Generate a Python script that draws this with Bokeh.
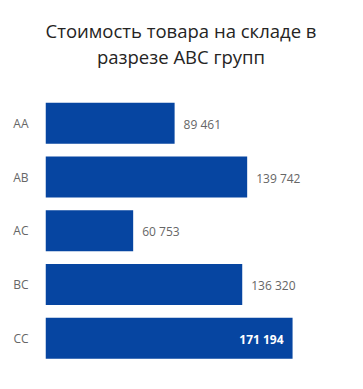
from bokeh.plotting import figure
from bokeh.models import ColumnDataSource, Range1d, FixedTicker
from bokeh.embed import file_html
from bokeh.resources import INLINE
from bokeh.core.properties import value

title_lines = ["Стоимость товара на складе в", "разрезе ABC групп"]
categories = ["AA", "AB", "AC", "BC", "CC"]
values = [89461, 139742, 60753, 136320, 171194]

BAR = "#0645A1"
GRAY = "#666666"
FONT = "Open Sans"

W, H = 363, 389
LEFT, RIGHT, BOTTOM = 45, 8, 24
x_end = 214800
# vertical layout (pixels from top of the canvas)
first_center_px, pitch_px = 122.8, 53.75
title_px = [30, 56]
frame_h = H - BOTTOM

def px_to_y(py):
    return (py - first_center_px) / pitch_px

def fmt(v):
    return f"{v:,}".replace(",", " ")

idx = list(range(len(categories)))

p = figure(width=W, height=H, output_backend="svg", toolbar_location=None,
           y_range=Range1d(px_to_y(frame_h), px_to_y(0)),
           x_range=Range1d(0, x_end),
           min_border_left=LEFT, min_border_right=RIGHT, min_border_bottom=BOTTOM, min_border_top=0)

src = ColumnDataSource(dict(y=idx, val=values))
p.hbar(y="y", right="val", left=0, height=0.762, source=src, color=BAR, line_color=None)

inside = [v / x_end > 0.75 for v in values]
out = ColumnDataSource(dict(y=[i for i, f in zip(idx, inside) if not f],
                            val=[v for v, f in zip(values, inside) if not f],
                            lab=[fmt(v) for v, f in zip(values, inside) if not f]))
ins = ColumnDataSource(dict(y=[i for i, f in zip(idx, inside) if f],
                            val=[v for v, f in zip(values, inside) if f],
                            lab=[fmt(v) for v, f in zip(values, inside) if f]))
p.text(x="val", y="y", text="lab", source=out, x_offset=9, y_offset=1, text_align="left",
       text_baseline="middle", text_font=value(FONT), text_font_size="12px", text_color=GRAY)
p.text(x="val", y="y", text="lab", source=ins, x_offset=-9, y_offset=1, text_align="right",
       text_baseline="middle", text_font=value(FONT), text_font_size="12px", text_color="white",
       text_font_style="bold")

# title (two centred lines)
title_x = x_end * (180.5 - LEFT) / (W - LEFT - RIGHT)
tsrc = ColumnDataSource(dict(x=[title_x] * len(title_lines), y=[px_to_y(t) for t in title_px],
                             t=title_lines))
p.text(x="x", y="y", text="t", source=tsrc, text_align="center", text_baseline="middle",
       text_font=value(FONT), text_font_size="18.5px", text_color="#252423")

p.xaxis.visible = False
p.yaxis.ticker = FixedTicker(ticks=idx)
p.yaxis.major_label_overrides = {i: c for i, c in zip(idx, categories)}
p.yaxis.axis_line_color = None
p.yaxis.major_tick_line_color = None
p.yaxis.minor_tick_line_color = None
p.yaxis.major_label_standoff = 11
p.yaxis.major_label_text_font = FONT
p.yaxis.major_label_text_font_size = "12px"
p.yaxis.major_label_text_color = GRAY
p.grid.visible = False
p.outline_line_color = None

open("out.html", "w").write(file_html(p, INLINE))
